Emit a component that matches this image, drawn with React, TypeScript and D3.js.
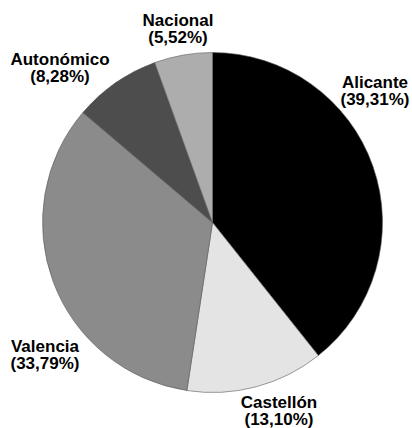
import React from "react";
import * as d3 from "d3";

const categories = ["Alicante", "Castellón", "Valencia", "Autonómico", "Nacional"];
const values = [39.31, 13.1, 33.79, 8.28, 5.52];
const valueLabels = ["(39,31%)", "(13,10%)", "(33,79%)", "(8,28%)", "(5,52%)"];
const colors = ["#000000", "#e4e4e4", "#8b8b8b", "#4d4d4d", "#adadad"];
const labelPositions: [number, number][] = [
  [375, 88],
  [279, 408],
  [45, 352],
  [60, 65],
  [178, 26],
];

const W = 412;
const H = 428;
const cx = 212.5;
const cy = 222.5;
const R = 170;

export default function App() {
  const pie = d3
    .pie<number>()
    .sort(null)
    .value((d) => d)
    .startAngle(0)
    .endAngle(2 * Math.PI);
  const arcs = pie(values);
  const arcGen = d3.arc<d3.PieArcDatum<number>>().innerRadius(0).outerRadius(R);

  return (
    <svg
      width={W}
      height={H}
      style={{ position: "absolute", left: 0, top: 0, background: "#fff" }}
    >
      <rect x={0} y={0} width={W} height={H} fill="#fff" />
      <g transform={`translate(${cx},${cy})`}>
        {arcs.map((a, i) => (
          <path
            key={categories[i]}
            d={arcGen(a) || ""}
            fill={colors[i]}
            stroke="#5a5a5a"
            strokeWidth={0.6}
          />
        ))}
      </g>
      {categories.map((c, i) => (
        <text
          key={c}
          x={labelPositions[i][0]}
          y={labelPositions[i][1]}
          textAnchor="middle"
          fontFamily="'Liberation Sans', Arial, sans-serif"
          fontWeight="bold"
          fontSize={17}
          fill="#000"
        >
          <tspan x={labelPositions[i][0]}>{c}</tspan>
          <tspan x={labelPositions[i][0]} dy={16.8}>
            {valueLabels[i]}
          </tspan>
        </text>
      ))}
    </svg>
  );
}
